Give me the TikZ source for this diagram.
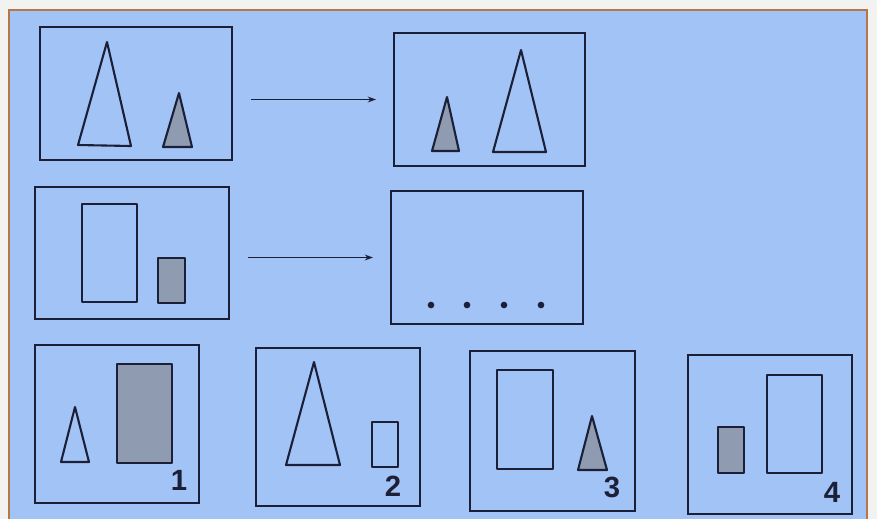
\documentclass[tikz,border=0pt]{standalone}
\usepackage{fontspec}
\setmainfont{Liberation Sans}
\usepackage{tikz}
\usetikzlibrary{positioning,arrows.meta,fit}
\definecolor{ink}{HTML}{1B2038}
\definecolor{shade}{HTML}{8F9BB0}
\definecolor{bg}{HTML}{A2C3F5}
\definecolor{frame}{HTML}{B5774A}
\definecolor{paper}{HTML}{F2F2F0}
\tikzset{
  panel/.style={draw=ink,line width=1.8pt,inner sep=0pt},
  fig/.style={draw=ink,line width=1.8pt,line join=round},
  dark/.style={fig,fill=shade},
  arr/.style={-{Stealth[length=7pt,width=5pt]},ink,line width=1.5pt,shorten <=0.54cm,shorten >=0.51cm},
  num/.style={font=\fontsize{25}{25}\selectfont\bfseries,text=ink,inner sep=0pt},
}
\newcommand{\panel}[5]{\node[panel,fit={(#2,#3) (#4,#5)}] (#1) {};}

\begin{document}
\begin{tikzpicture}[x=0.03cm,y=-0.03cm]
\useasboundingbox[fill=paper] (0,0) rectangle (877,519);
\draw[frame,line width=1.5pt,fill=bg] (9,519) -- (9,10) -- (867,10) -- (867,519);
% rows of panels
\panel{p1}{40}{27}{232}{160}
\panel{p2}{394}{33}{585}{166}
\panel{p3}{35}{187}{229}{319}
\panel{p4}{391}{191}{583}{324}
\panel{p5}{35}{345}{199}{503}
\panel{p6}{256}{348}{420}{506}
\panel{p7}{470}{351}{635}{511}
\panel{p8}{688}{355}{852}{514}
\draw[arr] (p1.east |- p2.west) -- (p2.west);
\draw[arr] (p3.east |- p4.west) -- (p4.west);
% first pair
\draw[fig] (107,42) -- (131,146) -- (78,145) -- cycle;
\draw[dark] (179,93) -- (192,147) -- (163,147) -- cycle;
\draw[dark] (447,97) -- (459,151) -- (432,151) -- cycle;
\draw[fig] (521,50) -- (546,152) -- (493,152) -- cycle;
% second pair
\draw[fig] (82,204) rectangle (137,302);
\draw[dark] (158,258) rectangle (185,303);
\foreach \x in {431,467,504,541}
  \fill[ink] (\x,305) circle (0.1cm);
% answers
\draw[fig] (75,407) -- (89,462) -- (61,462) -- cycle;
\draw[dark] (117,364) rectangle (172,463);
\node[num] (n1) at (179,480) {1};
\draw[fig] (314,362) -- (340,465) -- (286,465) -- cycle;
\draw[fig] (372,422) rectangle (398,467);
\node[num] (n2) at (393,486) {2};
\draw[fig] (497,370) rectangle (553,469);
\draw[dark] (592,416) -- (607,470) -- (578,470) -- cycle;
\node[num] (n3) at (612,487) {3};
\draw[dark] (718,427) rectangle (744,473);
\draw[fig] (767,375) rectangle (822,473);
\node[num] (n4) at (832,492) {4};
\end{tikzpicture}
\end{document}
